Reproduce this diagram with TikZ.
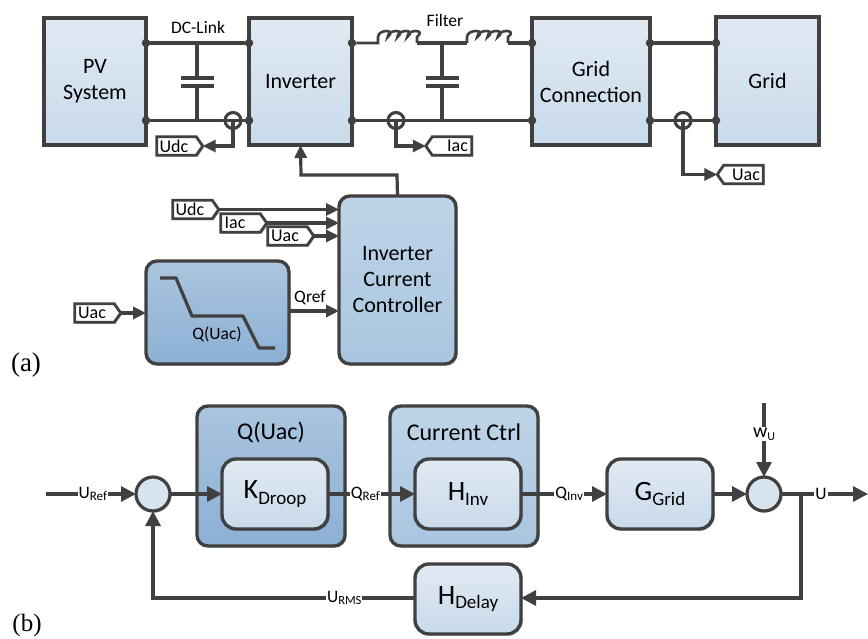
\documentclass[tikz,border=0pt]{standalone}
\usepackage{fontspec}
\setmainfont{Carlito}
\newfontfamily\tnr{Liberation Serif}
\usetikzlibrary{arrows.meta,shadows,shapes.symbols}
\definecolor{ink}{HTML}{404040}
\newcommand{\fs}[2]{\fontsize{#1}{#2}\selectfont}
\newcommand{\lab}[4]{{\fs{#1}{#1}#2}\raisebox{-0.22em}{\fs{#3}{#3}#4}}
\tikzset{
  softshadow/.style={drop shadow={shadow xshift=1.5pt,shadow yshift=-1.5pt,opacity=.25,fill=black}},
  light/.style={top color=lightT,bottom color=lightB},
  wire/.style={draw=ink,line width=3.2pt},
  arrowed/.style={wire,-{Triangle[length=13pt,width=12pt]}},
  blockbox/.style={draw=ink,line width=3.4pt,outer sep=0pt,inner sep=0pt,align=center,text=black,softshadow,light,font=\fs{22}{26}},
  roundbox/.style={blockbox,rounded corners=11pt},
  dot/.style={circle,fill=ink,draw=none,minimum size=8.5pt,inner sep=0pt,outer sep=0pt},
  sensor/.style={circle,draw=ink,line width=2.8pt,minimum size=16pt,inner sep=0pt,outer sep=0pt},
  sumbox/.style={circle,draw=ink,line width=3.2pt,minimum size=34pt,inner sep=0pt,outer sep=0pt,fill=lightT!60!lightB,softshadow},
  tagbase/.style={signal,draw=ink,line width=2.8pt,fill=white,inner sep=0pt,outer sep=0pt,minimum width=46pt,minimum height=18.5pt,signal pointer angle=110,font=\fs{18}{18},text=black,softshadow},
  tagright/.style={tagbase,signal to=east,signal from=nowhere},
  tagleft/.style={tagbase,signal to=west,signal from=nowhere},
  txt/.style={inner sep=0pt,text=black},
  wirelab/.style={fill=white,inner sep=1pt,text=black},
}
\definecolor{lightT}{HTML}{E1EAF3}
\definecolor{lightB}{HTML}{C8DAEA}
\definecolor{midT}{HTML}{BFD4E8}
\definecolor{midB}{HTML}{A9C6E0}
\definecolor{darkT}{HTML}{AAC5DF}
\definecolor{darkB}{HTML}{8CB0D4}
\begin{document}
\begin{tikzpicture}[x=1pt,y=-1pt]
\useasboundingbox (0,0) rectangle (868,639);
% ---------- (a) blocks
\node[blockbox,minimum width=102pt,minimum height=127pt] (pv) at (95,81.5) {\raisebox{-2pt}{PV}\\\raisebox{-2pt}{System}};
\node[blockbox,minimum width=103pt,minimum height=127pt] (inv) at (300.5,81.5) {Inverter};
\node[blockbox,minimum width=118pt,minimum height=127pt] (gc) at (591,81.5) {\raisebox{-1pt}{Grid}\\\raisebox{-1pt}{Connection}};
\node[blockbox,minimum width=103pt,minimum height=128pt] (grid) at (767.5,81) {Grid};
\node[roundbox,top color=midT,bottom color=midB,minimum width=117pt,minimum height=168pt] (icc) at (397.5,280) {Inverter\\Current\\Controller};
\node[roundbox,top color=darkT,bottom color=darkB,minimum width=143pt,minimum height=103pt] (droop) at (217.5,312.5) {};
% junction dots
\foreach \n/\x in {pva/146,inva/249,invb/352,gca/532,gcb/650,grida/716}
  \node[dot] (\n1) at (\x,43) {};
\foreach \n/\x in {pva/146,inva/249,invb/352,gca/532,gcb/650,grida/716}
  \node[dot] (\n2) at (\x,120.5) {};
% sensors
\node[sensor] (s1) at (233,120.5) {};
\node[sensor] (s2) at (396,120.5) {};
\node[sensor] (s3) at (683,120.5) {};
% DC link
\draw[wire] (pva1) -- (inva1);
\draw[wire] (pva2) -- (inva2);
\coordinate (c1t) at (197,43);
\coordinate (c1b) at (197,120.5);
\coordinate (c1u) at (197,78);
\coordinate (c1l) at (197,86);
\draw[wire] (c1t) -- (c1u);
\draw[wire] (c1l) -- (c1b);
\draw[wire] ([xshift=-16.5pt]c1u) -- ([xshift=16.5pt]c1u);
\draw[wire] ([xshift=-16.5pt]c1l) -- ([xshift=16.5pt]c1l);
% AC wires with inductors
\coordinate (l1a) at (378,43);
\coordinate (l1b) at (417,43);
\coordinate (l2a) at (467,43);
\coordinate (l2b) at (508,43);
\draw[wire,line width=2.6pt] (invb1) -- (l1a) -- ++(0,-6)
  \foreach \k in {1,2,3,4} { .. controls +(0,-8) and +(9.75,-8) .. ++(9.75,0) } -- (l1b);
\draw[wire] (l1b) -- (l2a);
\draw[wire,line width=2.6pt] (l2a) -- ++(0,-6)
  \foreach \k in {1,2,3,4} { .. controls +(0,-8) and +(10.25,-8) .. ++(10.25,0) } -- (l2b);
\draw[wire] (l2b) -- (gca1);
\draw[wire] (invb2) -- (gca2);
\coordinate (c2t) at (442,43);
\coordinate (c2b) at (442,120.5);
\coordinate (c2u) at (442,78);
\coordinate (c2l) at (442,86);
\draw[wire] (c2t) -- (c2u);
\draw[wire] (c2l) -- (c2b);
\draw[wire] ([xshift=-16.5pt]c2u) -- ([xshift=16.5pt]c2u);
\draw[wire] ([xshift=-16.5pt]c2l) -- ([xshift=16.5pt]c2l);
\draw[wire] (gcb1) -- (grida1);
\draw[wire] (gcb2) -- (grida2);
% sensor tags
\node[tagright] (tudc) at (176.5,146) {Udc\hspace*{5pt}};
\node[tagleft] (tiac) at (452,146) {\hspace*{11pt}Iac};
\node[tagleft] (tuac) at (743.5,174.5) {\hspace*{5pt}Uac};
\draw[arrowed] (s1.center) -- (233,146) -- (tudc.east);
\draw[arrowed] (s2.center) -- (396,146) -- (tiac.west);
\draw[arrowed] (s3.center) -- (683,174.5) -- (tuac.west);
\node[sensor] at (s1) {};
\node[sensor] at (s2) {};
\node[sensor] at (s3) {};
% controller
\draw[arrowed] (icc.north) -- (397,175) -- (301,175) -- (inv.south);
\node[tagright] (ta) at (192.5,209.5) {Udc\hspace*{5pt}};
\node[tagright] (tb) at (240.5,223) {Iac\hspace*{11pt}};
\node[tagright] (tc) at (287.5,236) {Uac\hspace*{5pt}};
\draw[arrowed] (ta.east) -- (ta.east -| icc.west);
\draw[arrowed] (tb.east) -- (tb.east -| icc.west);
\draw[arrowed] (tc.east) -- (tc.east -| icc.west);
\node[tagright] (td) at (94.5,313) {Uac\hspace*{5pt}};
\draw[arrowed] (td.east) -- (td.east -| droop.west);
\coordinate (qr) at (289,311);
\draw[arrowed] (qr) -- node[txt,above=4.5pt,xshift=-4pt,font=\fs{17.5}{17.5}] {Qref} (qr -| icc.west);
% droop curve
\draw[wire,line join=round] (160,278) -- (176,278) -- (192,316) -- (243,316) -- (259,348) -- (275,348);
\node[txt,font=\fs{17.5}{17.5}] (qu) at (217,334) {Q(Uac)};
% texts
\node[txt,font=\fs{17.5}{17.5}] (dcl) at (198,27) {DC-Link};
\node[txt,font=\fs{17.5}{17.5}] (flt) at (445,20) {Filter};
\node[txt,font=\tnr\fs{27}{27}] (la) at (26,365) {(a)};
\node[txt,font=\tnr\fs{25}{25}] (lb) at (27,625.5) {(b)};
% ---------- (b)
\node[roundbox,top color=darkT,bottom color=darkB,minimum width=148pt,minimum height=140pt] (o1) at (271,476) {};
\node[roundbox,top color=midT,bottom color=midB,minimum width=148pt,minimum height=140pt] (o2) at (464,476) {};
\node[txt,font=\fs{24}{24}] at (271,432) {Q(Uac)};
\node[txt,font=\fs{24}{24}] at (464,432) {Current Ctrl};
\node[roundbox,rounded corners=14pt,minimum width=106pt,minimum height=70pt,font=\fs{28}{28}] (k) at (275,494) {\lab{28}{K}{19}{Droop}};
\node[roundbox,rounded corners=14pt,minimum width=106pt,minimum height=70pt] (h) at (468,494) {\lab{28}{H}{19}{Inv}};
\node[roundbox,rounded corners=14pt,minimum width=106pt,minimum height=70pt] (g) at (660,494) {\lab{28}{G}{19}{Grid}};
\node[roundbox,rounded corners=14pt,minimum width=106pt,minimum height=70pt] (d) at (468,599) {\lab{28}{H}{19}{Delay}};
\node[sumbox] (s) at (153,494) {};
\node[sumbox] (t) at (764,494) {};
\coordinate (in) at (46,494);
\coordinate (out) at (868,494);
\coordinate (wtop) at (764,403);
\coordinate (br) at (801,494);
\coordinate (brd) at (801,598);
\coordinate (fbl) at (153,598);
\tikzset{bigarrow/.style={wire,-{Triangle[length=15pt,width=15pt]}}}
\draw[bigarrow] (in) -- node[wirelab,pos=.52] {\lab{17.5}{U}{13}{Ref}} (s);
\draw[bigarrow] (s) -- (k);
\draw[bigarrow] (k) -- node[wirelab,pos=.43] {\lab{17.5}{Q}{13}{Ref}} (h);
\draw[bigarrow] (h) -- node[wirelab,pos=.56] {\lab{17.5}{Q}{13}{Inv}} (g);
\draw[bigarrow] (g) -- (t);
\draw[bigarrow] (wtop) -- node[wirelab,pos=.41,yshift=-1pt] {\lab{20}{w}{12}{U}} (t);
\draw[bigarrow] (t) -- node[wirelab,pos=.46] {\fs{17.5}{17.5}U} (out);
\draw[bigarrow] (br) -- (brd) -- (d.east |- brd);
\draw[bigarrow] (d.west |- brd) -- node[wirelab,pos=.27] {\lab{17.5}{U}{12.5}{RMS}} (fbl) -- (s);
\end{tikzpicture}
\end{document}
